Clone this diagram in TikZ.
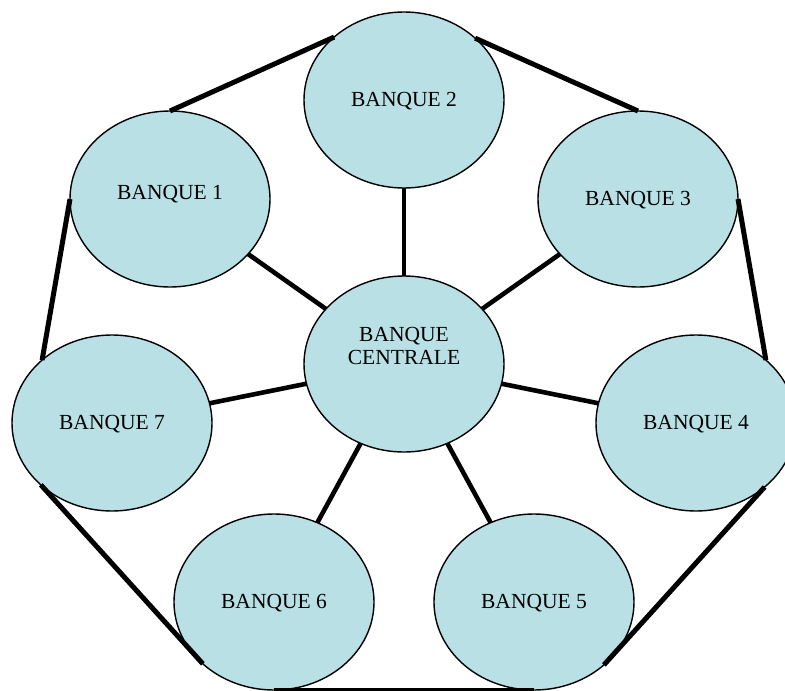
\documentclass[tikz,border=0pt]{standalone}
\usepackage{fontspec}
\setmainfont{Liberation Serif}
\usetikzlibrary{shapes.geometric}
\definecolor{bankfill}{RGB}{185,224,228}
\tikzset{
  bank/.style={ellipse, draw=black, line width=1.4pt, fill=bankfill,
    minimum width=200pt, minimum height=176pt, inner sep=0pt, outer sep=0pt},
  banktext/.style={font=\fontsize{21.5}{23.5}\selectfont, align=center, text=black, yshift=-1.5pt},
  spoke/.style={line width=4.6pt},
  rim/.style={line width=5pt}
}
\begin{document}
\begin{tikzpicture}[x=1pt,y=-1pt]
\useasboundingbox (0,0) rectangle (785,691);
% coordinates of the node centres
\coordinate (p2) at (404,100);
\coordinate (p1) at (170,199);
\coordinate (p3) at (638,199);
\coordinate (pc) at (404,364);
\coordinate (p7) at (112,423);
\coordinate (p4) at (696,423);
\coordinate (p6) at (274,602);
\coordinate (p5) at (534,602);
% spokes (behind the ellipses)
\foreach \k in {1,...,7}{
  \draw[spoke] (pc) -- (p\k);
}
% ellipses
\node[bank, label={[banktext]center:BANQUE 2}] (b2) at (p2) {};
\node[bank, label={[banktext, yshift=6pt]center:BANQUE 1}] (b1) at (p1) {};
\node[bank, label={[banktext]center:BANQUE 3}] (b3) at (p3) {};
\node[bank, label={[banktext, yshift=19.5pt]center:BANQUE\\CENTRALE}] (c) at (pc) {};
\node[bank, label={[banktext]center:BANQUE 7}] (b7) at (p7) {};
\node[bank, label={[banktext]center:BANQUE 4}] (b4) at (p4) {};
\node[bank, label={[banktext]center:BANQUE 6}] (b6) at (p6) {};
\node[bank, label={[banktext]center:BANQUE 5}] (b5) at (p5) {};
% outer ring
\draw[rim] (b1.90) -- (b2.138.4);
\draw[rim] (b2.41.6) -- (b3.90);
\draw[rim] (b1.180) -- (b7.138);
\draw[rim] (b3.0) -- (b4.42.4);
\draw[rim] (b7.221.5) -- (b6.221.2);
\draw[rim] (b4.317.2) -- (b5.318.4);
\draw[rim] (b6.270) -- (b5.270);
\end{tikzpicture}
\end{document}
